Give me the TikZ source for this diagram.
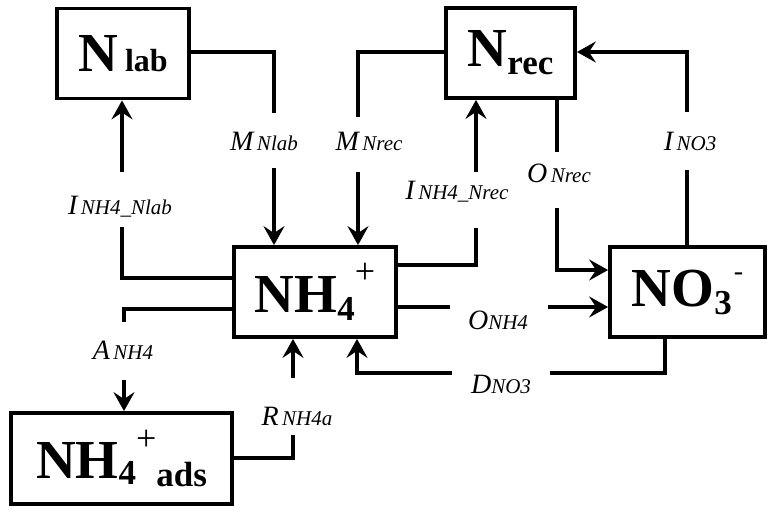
\documentclass[tikz,border=0pt]{standalone}
\usepackage{fontspec}
\setmainfont{Liberation Serif}
\usetikzlibrary{arrows.meta}
\tikzset{
  box/.style={draw, line width=3.8pt, inner sep=0pt, minimum height=90pt, font=\bfseries},
  conn/.style={line width=3.8pt},
  arr/.style={conn, -{Stealth[length=19pt,width=21pt,inset=7pt]}},
  lbl/.style={inner sep=0pt, anchor=base, font=\itshape}
}
\newcommand{\bxbig}[1]{{\fontsize{55}{55}\selectfont #1}}
\newcommand{\bxsub}[2]{\raisebox{-#2pt}{\fontsize{35}{35}\selectfont #1}}
\newcommand{\flb}[2]{{\fontsize{28}{28}\selectfont #1}{\fontsize{21}{21}\selectfont #2}}
\begin{document}
\begin{tikzpicture}[x=1pt,y=-1pt]
\useasboundingbox (0,0) rectangle (775,513);
% boxes
\node[box, minimum width=132pt] (Nlab) at (123,53.5)
  {\bxbig{N}\hspace{7pt}{\fontsize{32}{32}\selectfont lab}};
\node[box, minimum width=129pt] (Nrec) at (510.5,53)
  {\bxbig{N}\bxsub{rec}{8}};
\node[box, minimum width=162pt] (NH4) at (315,292)
  {\bxbig{NH}\bxsub{4}{8}\raisebox{29pt}{\fontsize{36}{36}\selectfont\mdseries +}\hspace{4pt}};
\node[box, minimum width=155pt] (NO3) at (687.5,292)
  {\bxbig{NO}\bxsub{3}{8}\hspace{2pt}\raisebox{26pt}{\fontsize{28}{28}\selectfont\mdseries -}};
\node[box, minimum width=221pt, minimum height=91pt] (NH4ads) at (121.5,458.5)
  {\raisebox{-4pt}{\bxbig{NH}}\bxsub{4}{10}\raisebox{24pt}{\fontsize{36}{36}\selectfont\mdseries +}\bxsub{ads}{12}};
% labels
\node[lbl] (lMNlab) at (264,150) {\flb{M}{\,Nlab}};
\node[lbl] (lMNrec) at (369,150) {\flb{M}{\,Nrec}};
\node[lbl] (lINlab) at (120,214) {\flb{I}{\,NH4\_Nlab}};
\node[lbl] (lINrec) at (457,199) {\flb{I}{\,NH4\_Nrec}};
\node[lbl] (lONrec) at (559,182) {\flb{O}{\,Nrec}};
\node[lbl] (lINO3) at (690,150) {\flb{I}{\,NO3}};
\node[lbl] (lONH4) at (498,329) {\flb{O}{NH4}};
\node[lbl] (lDNO3) at (501,393) {\flb{D}{NO3}};
\node[lbl] (lANH4) at (123,359) {\flb{A}{\,NH4}};
\node[lbl] (lRNH4a) at (297,425) {\flb{R}{\,NH4a}};
% gap ends
\coordinate (a1) at (274,113); \coordinate (a2) at (274,168);
\coordinate (b1) at (358,117); \coordinate (b2) at (358,172);
\coordinate (c1) at (122,227); \coordinate (c2) at (122,172);
\coordinate (d1) at (124,322); \coordinate (d2) at (124,380);
\coordinate (e1) at (293,435); \coordinate (e2) at (293,378);
\coordinate (f1) at (550,373); \coordinate (f2) at (452,373);
\coordinate (g1) at (450,307); \coordinate (g2) at (548,307);
\coordinate (h1) at (557,152); \coordinate (h2) at (557,208);
\coordinate (i1) at (687,170); \coordinate (i2) at (687,112);
\coordinate (j1) at (476,228); \coordinate (j2) at (476,172);
% connectors
\draw[conn] (Nlab.east |- 0,52) -| (a1);
\draw[arr] (a2) -- (NH4.north -| a2);
\draw[conn] (Nrec.west |- 0,52) -| (b1);
\draw[arr] (b2) -- (NH4.north -| b2);
\draw[conn] (NH4.west |- 0,278) -| (c1);
\draw[arr] (c2) -- (Nlab.south -| c2);
\draw[conn] (NH4.west |- 0,309) -| (d1);
\draw[arr] (d2) -- (NH4ads.north -| d2);
\draw[conn] (NH4ads.east |- 0,458) -| (e1);
\draw[arr] (e2) -- (NH4.south -| e2);
\draw[conn] (NO3.south -| 665,0) |- (f1);
\draw[arr] (f2) -| (NH4.south -| 357,0);
\draw[conn] (NH4.east |- g1) -- (g1);
\draw[arr] (g2) -- (NO3.west |- g2);
\draw[conn] (Nrec.south -| h1) -- (h1);
\draw[arr] (h2) |- (NO3.west |- 0,270);
\draw[conn] (NO3.north -| i1) -- (i1);
\draw[arr] (i2) |- (Nrec.east |- 0,52);
\draw[conn] (NH4.east |- 0,265) -| (j1);
\draw[arr] (j2) -- (Nrec.south -| j2);
\end{tikzpicture}
\end{document}
